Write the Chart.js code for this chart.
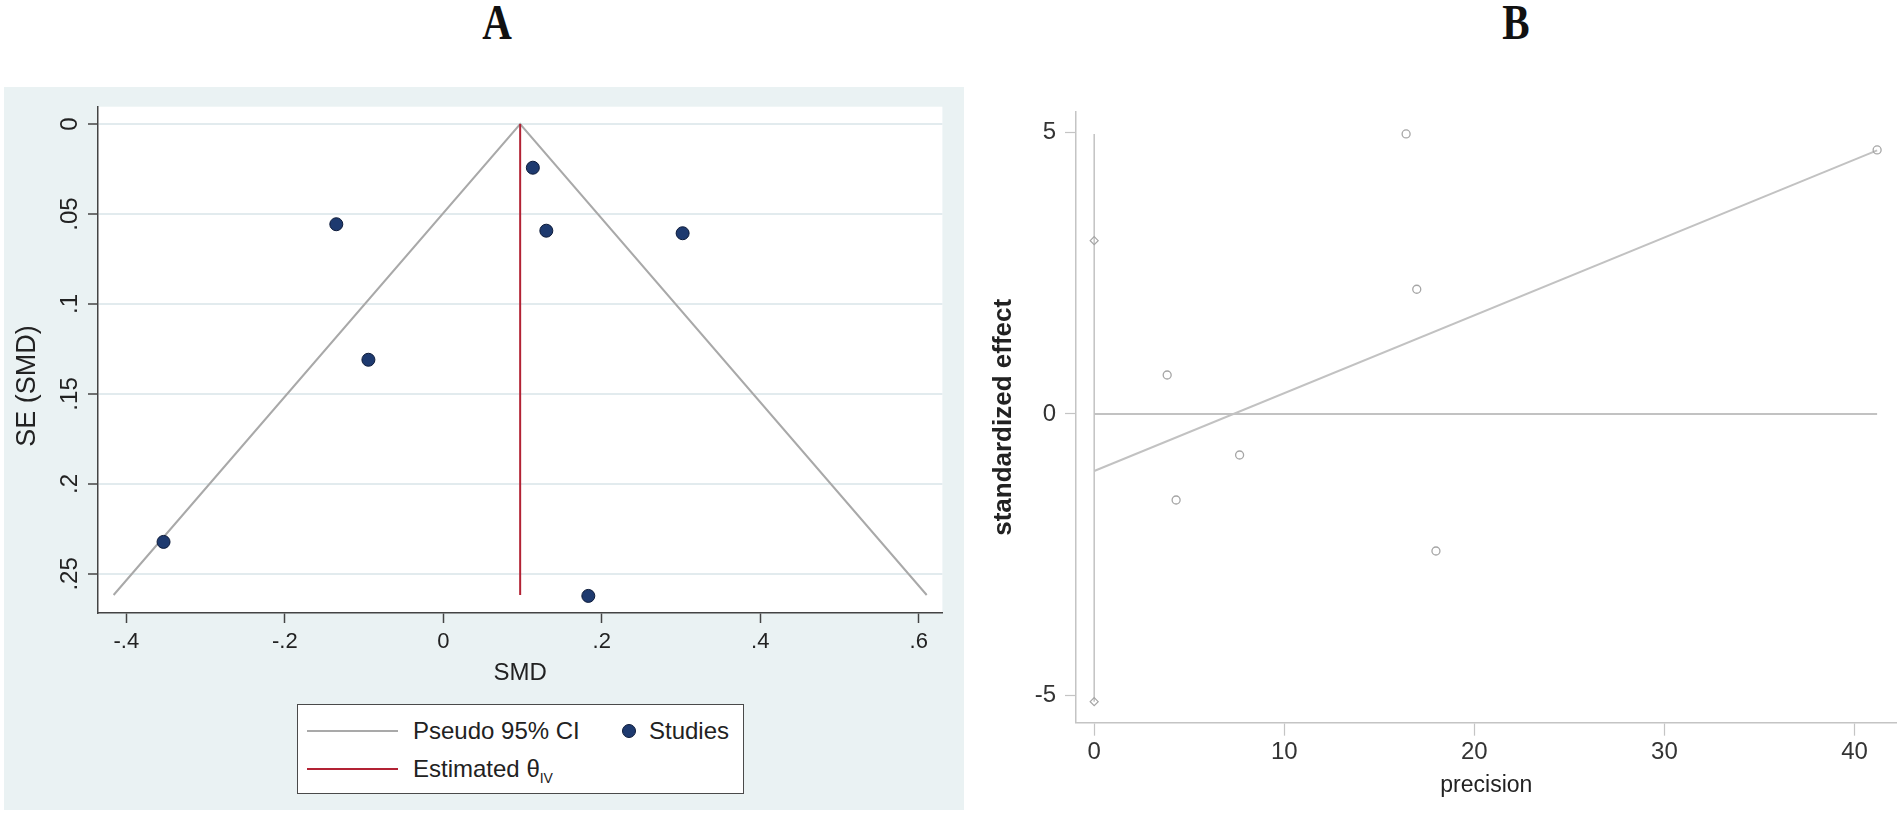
<!DOCTYPE html>
<html>
<head>
<meta charset="utf-8">
<script src="https://cdn.jsdelivr.net/npm/chart.js@4.4.1/dist/chart.umd.min.js"></script>
<style>
  body { margin: 0; width: 1902px; height: 816px; background: #fff; overflow: hidden; position: relative;
         font-family: "Liberation Sans", Arial, sans-serif; }
  .panel-title { position: absolute; top: -3px; font-family: "Liberation Serif", "Times New Roman", serif;
                 font-weight: bold; font-size: 50px; line-height: 50px; color: #111;
                 transform: translateX(-50%) scaleX(0.82); }
  #boxA { position: absolute; left: 4px; top: 87px; width: 960px; height: 723px; background: #eaf2f3; }
  #boxB { position: absolute; left: 966px; top: 87px; width: 936px; height: 729px; background: #fff; }
  canvas { display: block; }
  #legendA { position: absolute; left: 297px; top: 704px; width: 445px; height: 88px;
             border: 1.5px solid #4a4a4a; background: #fff; font-size: 24px; color: #222; }
  .lg { position: absolute; white-space: nowrap; line-height: 28px; }
  .sw { position: absolute; height: 2px; }
  .dot { position: absolute; width: 12px; height: 12px; border-radius: 50%; background: #1e3a6f;
         border: 1px solid #0d1b3a; }
</style>
</head>
<body>
<div class="panel-title" style="left:497px">A</div>
<div class="panel-title" style="left:1516px">B</div>

<div id="boxA"><canvas id="funnel" width="960" height="723"></canvas></div>
<div id="boxB"><canvas id="egger" width="936" height="729"></canvas></div>

<div id="legendA">
  <div class="sw" style="left:9px;top:25px;width:91px;background:#a9a9a9"></div>
  <div class="lg" style="left:115px;top:12px">Pseudo 95% CI</div>
  <div class="dot" style="left:324px;top:19px"></div>
  <div class="lg" style="left:351px;top:12px">Studies</div>
  <div class="sw" style="left:9px;top:63px;width:91px;background:#b22234"></div>
  <div class="lg" style="left:115px;top:50px">Estimated &theta;<sub style="font-size:14px;vertical-align:-6px">IV</sub></div>
</div>

<script>
// ---- panel A: funnel plot ----
const smd = [0.113, -0.135, 0.130, 0.302, -0.0945, -0.353, 0.183];
const seSmd = [0.0243, 0.0557, 0.0593, 0.0607, 0.131, 0.2322, 0.2622];
const thetaIV = 0.097;
const funnelSMD = [-0.416, 0.097, 0.610];
const funnelSE = [0.2617, 0, 0.2617];
const thetaSE = [0, 0.2617];

const xTicksA = [-0.4, -0.2, 0, 0.2, 0.4, 0.6];
const xTickLabelsA = ["-.4", "-.2", "0", ".2", ".4", ".6"];
const yTicksA = [0, 0.05, 0.1, 0.15, 0.2, 0.25];
const yTickLabelsA = ["0", ".05", ".1", ".15", ".2", ".25"];

// ---- panel B: standardized effect vs precision ----
const precision = [16.41, 16.97, 3.84, 7.65, 4.31, 17.98, 41.19];
const stdEffect = [4.97, 2.214, 0.692, -0.728, -1.527, -2.432, 4.687];
const ciPrecision = [0, 0];
const ciEffect = [3.076, -5.107];
const fitPrecision = [0, 41.19];
const fitEffect = [-1.012, 4.68];
const zeroLineX = [0, 41.19];
const zeroLineY = [0, 0];
const vertLineY = [-5.107, 4.97];

const xTicksB = [0, 10, 20, 30, 40];
const yTicksB = [-5, 0, 5];

const font = "'Liberation Sans', Arial, sans-serif";

function pts(xs, ys) {
  return xs.map((x, i) => ({ x: x, y: ys[i] }));
}

// white plot region inside the tinted graph region
const plotRegion = {
  id: "plotRegion",
  beforeDraw(chart) {
    const a = chart.chartArea;
    chart.ctx.save();
    chart.ctx.fillStyle = "#ffffff";
    chart.ctx.fillRect(a.left, a.top, a.right - a.left, a.bottom - a.top);
    chart.ctx.restore();
  },
};

// Chart A
new Chart(document.getElementById("funnel").getContext("2d"), {
  type: "scatter",
  data: {
    datasets: [
      {
        label: "Studies",
        data: pts(smd, seSmd),
        pointRadius: 6.5,
        pointBackgroundColor: "#1e3a6f",
        pointBorderColor: "#0d1b3a",
        pointBorderWidth: 1,
      },
      {
        label: "Estimated theta",
        data: pts([thetaIV, thetaIV], thetaSE),
        showLine: true,
        pointRadius: 0,
        borderColor: "#b22234",
        borderWidth: 2,
      },
      {
        label: "Pseudo 95% CI",
        data: pts(funnelSMD, funnelSE),
        showLine: true,
        pointRadius: 0,
        borderColor: "#a9a9a9",
        borderWidth: 2,
      },
    ],
  },
  plugins: [plotRegion],
  options: {
    responsive: false,
    animation: false,
    events: [],
    layout: { padding: { left: 0, top: 19.7, right: 21.6, bottom: 0 } },
    plugins: { legend: { display: false }, tooltip: { enabled: false } },
    scales: {
      x: {
        type: "linear",
        min: -0.4357,
        max: 0.6298,
        afterBuildTicks: (s) => { s.ticks = xTicksA.map((v) => ({ value: v })); },
        afterFit: (s) => { s.height = 197; },
        border: { display: true, color: "#444", width: 1.5 },
        grid: { drawOnChartArea: false, drawTicks: true, tickLength: 10, tickColor: "#444", tickWidth: 1.5 },
        ticks: {
          color: "#222",
          padding: 6,
          maxRotation: 0,
          font: { family: font, size: 22 },
          callback: (v) => xTickLabelsA[xTicksA.indexOf(v)],
        },
        title: {
          display: true,
          text: "SMD",
          color: "#222",
          font: { family: font, size: 24 },
          padding: { top: 0, bottom: 122.6 },
        },
      },
      y: {
        type: "linear",
        reverse: true,
        min: -0.0096,
        max: 0.2717,
        afterBuildTicks: (s) => { s.ticks = yTicksA.map((v) => ({ value: v })); },
        afterFit: (s) => { s.width = 94; },
        border: { display: true, color: "#444", width: 1.5 },
        grid: { color: "#e2ebee", lineWidth: 2, tickLength: 10, tickColor: "#444", tickWidth: 1.5 },
        ticks: {
          color: "#222",
          padding: 1,
          minRotation: 90,
          maxRotation: 90,
          crossAlign: "center",
          font: { family: font, size: 24 },
          callback: (v) => yTickLabelsA[yTicksA.indexOf(v)],
        },
        title: {
          display: true,
          // trailing spaces push the rotated title down, as in the original
          text: "SE (SMD)\u00a0\u00a0\u00a0\u00a0\u00a0\u00a0\u00a0",
          color: "#222",
          font: { family: font, size: 27 },
          padding: { top: 7.8, bottom: 0 },
        },
      },
    },
  },
});

// Chart B
new Chart(document.getElementById("egger").getContext("2d"), {
  type: "scatter",
  data: {
    datasets: [
      {
        label: "studies",
        data: pts(precision, stdEffect),
        pointRadius: 4,
        pointStyle: "circle",
        pointBackgroundColor: "rgba(255,255,255,0)",
        pointBorderColor: "#a5a5a5",
        pointBorderWidth: 1.3,
      },
      {
        label: "intercept CI",
        data: pts(ciPrecision, ciEffect),
        pointRadius: 4,
        pointStyle: "rectRot",
        pointBackgroundColor: "rgba(255,255,255,0)",
        pointBorderColor: "#a5a5a5",
        pointBorderWidth: 1.2,
      },
      {
        label: "fit",
        data: pts(fitPrecision, fitEffect),
        showLine: true,
        pointRadius: 0,
        borderColor: "#c2c2c2",
        borderWidth: 2,
      },
      {
        label: "zero",
        data: pts(zeroLineX, zeroLineY),
        showLine: true,
        pointRadius: 0,
        borderColor: "#c2c2c2",
        borderWidth: 2,
      },
      {
        label: "vertical",
        data: pts(ciPrecision, vertLineY),
        showLine: true,
        pointRadius: 0,
        borderColor: "#c2c2c2",
        borderWidth: 1.5,
      },
    ],
  },
  options: {
    responsive: false,
    animation: false,
    events: [],
    layout: { padding: { left: 0, top: 25, right: 0, bottom: 0 } },
    plugins: { legend: { display: false }, tooltip: { enabled: false } },
    scales: {
      x: {
        type: "linear",
        min: -0.957,
        max: 42.22,
        afterBuildTicks: (s) => { s.ticks = xTicksB.map((v) => ({ value: v })); },
        afterFit: (s) => { s.height = 93.3; },
        border: { display: true, color: "#c4c4c4", width: 1.5 },
        grid: { drawOnChartArea: false, tickLength: 13, tickColor: "#c4c4c4", tickWidth: 1.2 },
        ticks: {
          color: "#333",
          padding: 2,
          maxRotation: 0,
          font: { family: font, size: 24 },
        },
        title: {
          display: true,
          text: "precision",
          color: "#222",
          font: { family: font, size: 23 },
          padding: { top: 0, bottom: 16.2 },
        },
      },
      y: {
        type: "linear",
        min: -5.48,
        max: 5.36,
        afterBuildTicks: (s) => { s.ticks = yTicksB.map((v) => ({ value: v })); },
        afterFit: (s) => { s.width = 110; },
        border: { display: true, color: "#c4c4c4", width: 1.5 },
        grid: { drawOnChartArea: false, tickLength: 11, tickColor: "#c4c4c4", tickWidth: 1.2 },
        ticks: {
          color: "#333",
          padding: 9,
          font: { family: font, size: 24 },
        },
        title: {
          display: true,
          text: "standardized effect",
          color: "#222",
          font: { family: font, size: 26, weight: "bold" },
          padding: { top: 21.8, bottom: 0 },
        },
      },
    },
  },
});
</script>
</body>
</html>
